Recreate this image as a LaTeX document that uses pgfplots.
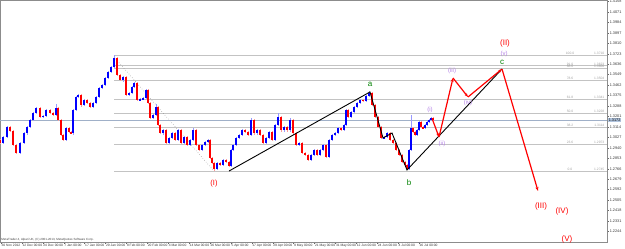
\documentclass[border=0pt]{standalone}
\usepackage{pgfplots}
\pgfplotsset{compat=1.18}
\usepackage{pgfplotstable}
\usepackage{fontspec}
\setmainfont{Liberation Sans}
\usetikzlibrary{arrows.meta}
\definecolor{upc}{RGB}{0,0,255}
\definecolor{dnc}{RGB}{255,0,0}
\definecolor{fibc}{RGB}{195,195,195}
\definecolor{fibt}{RGB}{160,160,160}
\definecolor{wave}{RGB}{180,130,230}
\definecolor{grn}{RGB}{0,128,0}
\definecolor{pricel}{RGB}{160,176,200}
\definecolor{pricebox}{RGB}{176,196,222}
\newcommand\tinyf{\fontsize{3.3bp}{3.6bp}\selectfont}
\newcommand\ytf{\fontsize{3.8bp}{4bp}\selectfont}
\newcommand\fibl[2]{%
  \node[font=\tinyf, text=fibt, anchor=south, inner sep=0.5bp] at (axis cs:570,#1) {#2};
  \node[font=\tinyf, text=fibt, anchor=south east, inner sep=0.5bp] at (axis cs:605,#1) {#1};}

\pgfplotstableread{
x o h l c
0 1.3005 1.3017 1.2968 1.2980
3 1.2980 1.3042 1.2968 1.3030
7 1.3030 1.3125 1.3018 1.3113
10 1.3113 1.3125 1.3068 1.3080
13 1.3080 1.3092 1.2952 1.2964
16 1.2964 1.2976 1.2885 1.2897
20 1.2897 1.2992 1.2885 1.2980
24 1.2980 1.3075 1.2968 1.3063
27 1.3063 1.3125 1.3051 1.3113
30 1.3113 1.3184 1.3101 1.3172
33 1.3172 1.3242 1.3160 1.3230
36 1.3230 1.3283 1.3218 1.3271
40 1.3271 1.3283 1.3185 1.3197
43 1.3197 1.3217 1.3185 1.3205
46 1.3205 1.3267 1.3193 1.3255
50 1.3255 1.3267 1.3218 1.3230
53 1.3230 1.3242 1.3201 1.3213
56 1.3213 1.3305 1.3201 1.3271
58 1.3271 1.3283 1.3160 1.3172
61 1.3172 1.3184 1.3035 1.3047
63 1.3047 1.3059 1.2993 1.3005
66 1.3005 1.3117 1.2993 1.3105
69 1.3105 1.3117 1.3060 1.3072
71 1.3072 1.3084 1.3051 1.3063
73 1.3063 1.3267 1.3051 1.3255
76 1.3255 1.3375 1.3243 1.3363
78 1.3363 1.3392 1.3351 1.3380
81 1.3380 1.3392 1.3284 1.3296
84 1.3296 1.3350 1.3284 1.3338
87 1.3338 1.3350 1.3301 1.3313
90 1.3313 1.3325 1.3268 1.3280
93 1.3280 1.3325 1.3268 1.3313
96 1.3313 1.3375 1.3301 1.3363
99 1.3363 1.3450 1.3351 1.3438
102 1.3438 1.3475 1.3426 1.3463
105 1.3463 1.3533 1.3451 1.3521
108 1.3521 1.3583 1.3509 1.3571
111 1.3571 1.3625 1.3559 1.3613
114 1.3613 1.3712 1.3601 1.3687
117 1.3687 1.3699 1.3534 1.3546
120 1.3546 1.3558 1.3492 1.3504
123 1.3504 1.3541 1.3492 1.3529
126 1.3529 1.3541 1.3368 1.3380
129 1.3380 1.3408 1.3368 1.3396
132 1.3396 1.3458 1.3384 1.3446
134 1.3446 1.3491 1.3434 1.3479
137 1.3479 1.3491 1.3326 1.3338
140 1.3338 1.3358 1.3326 1.3346
143 1.3346 1.3367 1.3334 1.3355
146 1.3355 1.3433 1.3343 1.3421
148 1.3421 1.3433 1.3301 1.3313
150 1.3313 1.3325 1.3176 1.3188
153 1.3188 1.3225 1.3176 1.3213
156 1.3213 1.3305 1.3201 1.3280
158 1.3280 1.3292 1.3118 1.3130
160 1.3130 1.3142 1.3051 1.3063
163 1.3063 1.3100 1.3051 1.3088
166 1.3088 1.3100 1.2968 1.2980
169 1.2980 1.3034 1.2968 1.3022
172 1.3022 1.3075 1.3010 1.3063
175 1.3063 1.3075 1.2993 1.3005
178 1.3005 1.3100 1.2993 1.3088
181 1.3088 1.3100 1.2968 1.2980
184 1.2980 1.3042 1.2968 1.3030
187 1.3030 1.3042 1.2952 1.2964
190 1.2964 1.3017 1.2952 1.3005
193 1.3005 1.3105 1.2993 1.3088
196 1.3088 1.3100 1.2952 1.2964
199 1.2964 1.2976 1.2910 1.2922
202 1.2922 1.2976 1.2910 1.2964
205 1.2964 1.3001 1.2952 1.2989
208 1.2989 1.3017 1.2977 1.3005
210 1.3005 1.3017 1.2843 1.2855
212 1.2855 1.2867 1.2802 1.2814
214 1.2814 1.2826 1.2747 1.2764
217 1.2764 1.2826 1.2752 1.2814
220 1.2814 1.2826 1.2785 1.2797
223 1.2797 1.2851 1.2785 1.2839
226 1.2839 1.2851 1.2810 1.2822
229 1.2822 1.2834 1.2777 1.2789
231 1.2789 1.2934 1.2777 1.2922
233 1.2922 1.2976 1.2910 1.2964
236 1.2964 1.3034 1.2952 1.3022
239 1.3022 1.3059 1.3010 1.3047
242 1.3047 1.3100 1.3035 1.3088
245 1.3088 1.3100 1.3060 1.3072
248 1.3072 1.3084 1.3035 1.3047
251 1.3047 1.3188 1.3035 1.3172
254 1.3172 1.3184 1.3051 1.3063
257 1.3063 1.3100 1.3051 1.3088
260 1.3088 1.3100 1.3035 1.3047
263 1.3047 1.3059 1.2968 1.2980
266 1.2980 1.3034 1.2968 1.3022
269 1.3022 1.3084 1.3010 1.3072
272 1.3072 1.3084 1.2993 1.3005
275 1.3005 1.3142 1.2993 1.3130
278 1.3130 1.3230 1.3118 1.3197
281 1.3197 1.3209 1.3076 1.3088
284 1.3088 1.3125 1.3076 1.3113
287 1.3113 1.3125 1.3076 1.3088
290 1.3088 1.3188 1.3076 1.3172
293 1.3172 1.3184 1.3051 1.3063
296 1.3063 1.3075 1.2952 1.2964
299 1.2964 1.2992 1.2952 1.2980
302 1.2980 1.2992 1.2885 1.2897
305 1.2897 1.2909 1.2868 1.2880
308 1.2880 1.2892 1.2827 1.2839
311 1.2839 1.2892 1.2827 1.2880
314 1.2880 1.2934 1.2868 1.2922
317 1.2922 1.2934 1.2868 1.2880
320 1.2880 1.2934 1.2868 1.2922
323 1.2922 1.2976 1.2910 1.2964
326 1.2964 1.2976 1.2852 1.2864
329 1.2864 1.3017 1.2852 1.3005
332 1.3005 1.3059 1.2993 1.3047
335 1.3047 1.3075 1.3035 1.3063
338 1.3063 1.3117 1.3051 1.3105
341 1.3105 1.3117 1.3076 1.3088
344 1.3088 1.3142 1.3076 1.3130
346 1.3130 1.3267 1.3118 1.3255
348 1.3255 1.3267 1.3185 1.3197
351 1.3197 1.3250 1.3185 1.3238
354 1.3238 1.3292 1.3226 1.3280
357 1.3280 1.3325 1.3268 1.3313
360 1.3313 1.3350 1.3301 1.3338
363 1.3338 1.3350 1.3318 1.3330
366 1.3330 1.3383 1.3318 1.3371
369 1.3371 1.3410 1.3359 1.3396
372 1.3396 1.3408 1.3284 1.3296
375 1.3296 1.3308 1.3185 1.3197
378 1.3197 1.3209 1.3101 1.3113
381 1.3113 1.3125 1.3010 1.3022
384 1.3022 1.3042 1.3010 1.3030
387 1.3030 1.3075 1.3018 1.3063
390 1.3063 1.3075 1.2993 1.3005
393 1.3005 1.3017 1.2968 1.2980
396 1.2980 1.2992 1.2910 1.2922
399 1.2922 1.2934 1.2868 1.2880
402 1.2880 1.2892 1.2810 1.2822
405 1.2822 1.2834 1.2785 1.2797
407 1.2797 1.2809 1.2752 1.2764
409 1.2764 1.2934 1.2752 1.2922
411 1.2922 1.3213 1.2910 1.3105
413 1.3105 1.3117 1.3060 1.3072
415 1.3072 1.3084 1.3035 1.3047
417 1.3047 1.3100 1.3035 1.3088
419 1.3088 1.3167 1.3076 1.3155
421 1.3155 1.3167 1.3101 1.3113
423 1.3113 1.3125 1.3093 1.3105
425 1.3105 1.3142 1.3093 1.3130
427 1.3130 1.3167 1.3118 1.3155
429 1.3155 1.3184 1.3143 1.3172
431 1.3172 1.3200 1.3160 1.3188
433 1.3188 1.3200 1.3160 1.3172
}\candles

\begin{document}
\begin{tikzpicture}
\useasboundingbox (0,0) rectangle (625bp,249bp);
\begin{axis}[
  at={(0,7bp)}, anchor=south west,
  scale only axis, width=607bp, height=242bp,
  xmin=0, xmax=607, ymin=1.21566, ymax=1.4170,
  clip=false,
  axis line style={draw=black!45, line width=0.8bp},
  tick style={draw=black!60, line width=0.4bp},
  major tick length=2bp, tick align=outside,
  xtick pos=bottom, ytick pos=right, yticklabel pos=right,
  xtick={1,21.9,42.8,63.7,84.6,105.5,126.4,147.3,168.2,189.1,210,230.9,251.8,272.7,293.6,314.5,335.4,356.3,377.2,398.1,419},
  xticklabels={30 Nov 2012,12 Dec 00:00,24 Dec 00:00,7 Jan 00:00,17 Jan 00:00,29 Jan 00:00,8 Feb 00:00,20 Feb 00:00,4 Mar 00:00,14 Mar 00:00,26 Mar 00:00,5 Apr 00:00,17 Apr 00:00,29 Apr 00:00,9 May 00:00,21 May 00:00,31 May 00:00,12 Jun 00:00,24 Jun 00:00,4 Jul 00:00,16 Jul 00:00},
  x tick label style={font=\tinyf, anchor=north west, inner sep=0.4bp, text=black!80},
  ytick={1.4158,1.4071,1.3984,1.3897,1.3810,1.3723,1.3636,1.3549,1.3462,1.3375,1.3288,1.3201,1.3114,1.3027,1.2940,1.2853,1.2766,1.2679,1.2592,1.2505,1.2418,1.2331,1.2244},
  y tick label style={font=\ytf, anchor=west, inner sep=0.6bp, text=black!80},
  scaled y ticks=false,
  /pgf/number format/.cd, fixed, fixed zerofill, precision=4, assume math mode=true,
]
% Fibonacci levels
\addplot[fibc, line width=0.6bp] coordinates {(114,1.3710) (607,1.3710)};
\addplot[fibc, line width=0.6bp] coordinates {(114,1.3623) (607,1.3623)};
\addplot[fibc, line width=0.6bp] coordinates {(114,1.3600) (607,1.3600)};
\addplot[fibc, line width=0.6bp] coordinates {(114,1.3504) (607,1.3504)};
\addplot[fibc, line width=0.6bp] coordinates {(114,1.3341) (607,1.3341)};
\addplot[fibc, line width=0.6bp] coordinates {(114,1.3228) (607,1.3228)};
\addplot[fibc, line width=0.6bp] coordinates {(114,1.3114) (607,1.3114)};
\addplot[fibc, line width=0.6bp] coordinates {(114,1.2973) (607,1.2973)};
\addplot[fibc, line width=0.6bp] coordinates {(114,1.2745) (607,1.2745)};
\addplot[black!45, dotted, line width=0.5bp] coordinates {(114,1.3696) (213,1.2756)};
% current price line
\addplot[pricel, line width=0.6bp] coordinates {(0,1.3172) (607,1.3172)};
% candle wicks
\addplot[draw=none, mark=none, restrict expr to domain={\thisrow{c}-\thisrow{o}}{0:1},
  error bars/.cd, y dir=both, y explicit, error mark=none,
  error bar style={draw=upc!40, line width=0.5bp}]
  table[x=x, y expr={(\thisrow{h}+\thisrow{l})/2}, y error expr={(\thisrow{h}-\thisrow{l})/2}] {\candles};
\addplot[draw=none, mark=none, restrict expr to domain={\thisrow{c}-\thisrow{o}}{-1:-0.00001},
  error bars/.cd, y dir=both, y explicit, error mark=none,
  error bar style={draw=dnc!40, line width=0.5bp}]
  table[x=x, y expr={(\thisrow{h}+\thisrow{l})/2}, y error expr={(\thisrow{h}-\thisrow{l})/2}] {\candles};
% candle bodies
\addplot[draw=none, mark=none, restrict expr to domain={\thisrow{c}-\thisrow{o}}{0:1},
  error bars/.cd, y dir=both, y explicit, error mark=none,
  error bar style={draw=upc, line width=1.5bp}]
  table[x=x, y expr={(\thisrow{o}+\thisrow{c})/2}, y error expr={abs(\thisrow{c}-\thisrow{o})/2}] {\candles};
\addplot[draw=none, mark=none, restrict expr to domain={\thisrow{c}-\thisrow{o}}{-1:-0.00001},
  error bars/.cd, y dir=both, y explicit, error mark=none,
  error bar style={draw=dnc, line width=1.5bp}]
  table[x=x, y expr={(\thisrow{o}+\thisrow{c})/2}, y error expr={abs(\thisrow{c}-\thisrow{o})/2}] {\candles};
% wave lines
\addplot[black, line width=0.9bp] coordinates {(229,1.2747) (370,1.3405) (383,1.3022) (392,1.3063) (407,1.2756) (502,1.3596)};
\addplot[dnc, line width=1.2bp, -{Stealth[length=4bp,width=3bp]}] coordinates {(432,1.3185) (439,1.3030)};
\addplot[dnc, line width=1.2bp, -{Stealth[length=4bp,width=3bp]}] coordinates {(439,1.3030) (453,1.3521)};
\addplot[dnc, line width=1.2bp, -{Stealth[length=4bp,width=3bp]}] coordinates {(453,1.3521) (468,1.3363)};
\addplot[dnc, line width=1.2bp, -{Stealth[length=4bp,width=3bp]}] coordinates {(468,1.3363) (502,1.3596)};
\addplot[dnc, line width=1.2bp, -{Stealth[length=4bp,width=3bp]}] coordinates {(502,1.3596) (538,1.2581)};
% fib labels
\fibl{1.3710}{100.0}
\fibl{1.3623}{91.0}
\fibl{1.3600}{88.6}
\fibl{1.3504}{78.6}
\fibl{1.3341}{61.8}
\fibl{1.3228}{50.0}
\fibl{1.3114}{38.2}
\fibl{1.2973}{23.6}
\fibl{1.2745}{0.0}
% current price label
\node[font=\ytf, fill=pricebox, anchor=west, inner sep=0.6bp, text=black] at (axis cs:608,1.3172) {1.3172};
% copyright
\node[font=\fontsize{3bp}{3.3bp}\selectfont, text=black!75, anchor=south west, inner sep=0.3bp] at (axis cs:1,1.21566) {MetaTrader 4, Alpari UK, (C) 2001-2013, MetaQuotes Software Corp.};
% wave labels
\node[text=dnc, font=\fontsize{7.5bp}{8bp}\selectfont] at (axis cs:214,1.2639) {(I)};
\node[text=grn, font=\fontsize{8bp}{8bp}\selectfont] at (axis cs:370,1.3471) {a};
\node[text=grn, font=\fontsize{8bp}{8bp}\selectfont] at (axis cs:409,1.2647) {b};
\node[text=grn, font=\fontsize{8bp}{8bp}\selectfont] at (axis cs:502,1.3654) {c};
\node[text=wave, font=\fontsize{6bp}{6bp}\selectfont] at (axis cs:430,1.3255) {(i)};
\node[text=wave, font=\fontsize{6bp}{6bp}\selectfont] at (axis cs:442,1.2972) {(ii)};
\node[text=wave, font=\fontsize{6bp}{6bp}\selectfont] at (axis cs:452,1.3579) {(iii)};
\node[text=wave, font=\fontsize{6bp}{6bp}\selectfont] at (axis cs:468,1.3313) {(iv)};
\node[text=wave, font=\fontsize{6bp}{6bp}\selectfont] at (axis cs:504,1.3721) {(v)};
\node[text=dnc, font=\fontsize{8bp}{8bp}\selectfont] at (axis cs:505,1.3812) {(II)};
\node[text=dnc, font=\fontsize{8bp}{8bp}\selectfont] at (axis cs:541,1.2456) {(III)};
\node[text=dnc, font=\fontsize{8bp}{8bp}\selectfont] at (axis cs:562,1.2415) {(IV)};
\node[text=dnc, font=\fontsize{8bp}{8bp}\selectfont] at (axis cs:567,1.2181) {(V)};
\end{axis}
\end{tikzpicture}
\end{document}
